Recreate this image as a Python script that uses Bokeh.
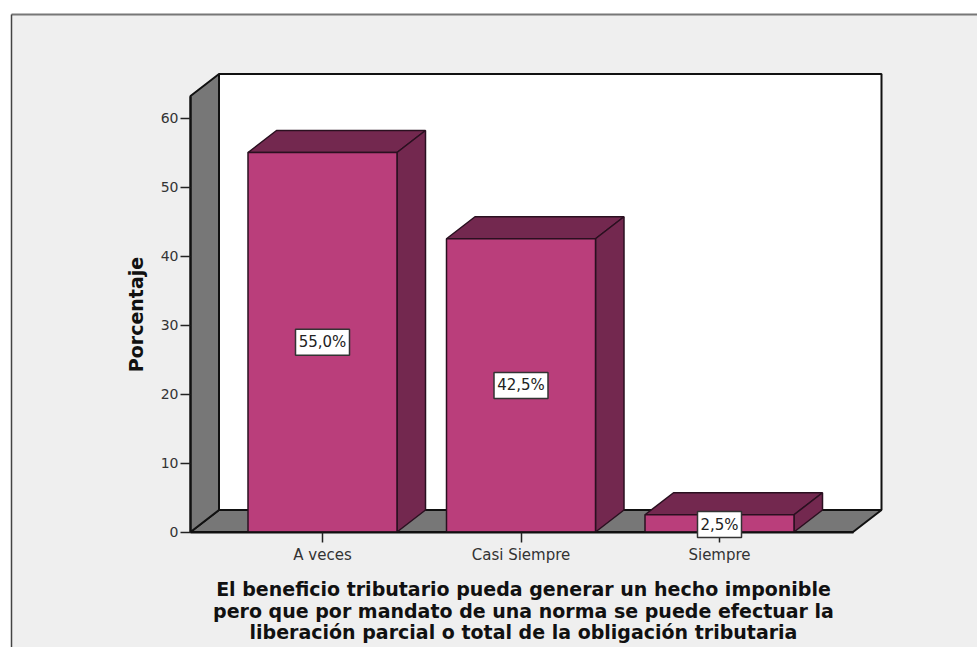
from bokeh.plotting import figure
from bokeh.embed import file_html
from bokeh.resources import INLINE
from bokeh.core.properties import value
from bokeh.models import FixedTicker
from math import pi

categories = ["A veces", "Casi Siempre", "Siempre"]
positions = [1, 2, 3]
percent = [55.0, 42.5, 2.5]
point_labels = ["55,0%", "42,5%", "2,5%"]
y_ticks = [0, 10, 20, 30, 40, 50, 60]
x_title = ["El beneficio tributario pueda generar un hecho imponible",
           "pero que por mandato de una norma se puede efectuar la",
           "liberación parcial o total de la obligación tributaria"]
y_title = "Porcentaje"

FRONT = "#ba3e7b"
DARK = "#73284f"
EDGE = "#2a1020"
GREY = "#777777"
PANEL = "#efefef"

# page pixel <-> data
PX_X, PX_Y = 198.5, 6.9
def X(px): return 1 + (px - 322) / PX_X
def Y(py): return (531.5 - py) / PX_Y

p = figure(width=977, height=647, min_border=0, toolbar_location=None,
           output_backend="svg", x_range=(X(0), X(977)), y_range=(Y(647), Y(0)))
p.outline_line_color = None
p.grid.visible = False
p.background_fill_color = "white"
p.border_fill_color = "white"

# panel
p.quad(left=[X(11)], right=[X(977)], bottom=[Y(647)], top=[Y(14)], fill_color=PANEL, line_color=None)
p.line([X(11), X(977)], [Y(14), Y(14)], line_color="#777777", line_width=2)
p.line([X(11), X(11)], [Y(14), Y(647)], line_color="#444444", line_width=1.5)

xl, xr = X(190), X(852.5)
dx, dy = 28.5 / PX_X, 22 / PX_Y
ytop = Y(95.5)

# walls and floor
p.patch([xl + dx, xr + dx, xr + dx, xl + dx], [dy, dy, ytop + dy, ytop + dy],
        fill_color="white", line_color="#111111", line_width=2)
p.patch([xl, xr, xr + dx, xl + dx], [0, 0, dy, dy], fill_color=GREY, line_color="#111111", line_width=2)
p.patch([xl, xl + dx, xl + dx, xl], [0, dy, ytop + dy, ytop], fill_color=GREY, line_color="#111111", line_width=2)

# bars
w = 149 / PX_X
for c, v in zip(positions, percent):
    l, r = c - w / 2, c + w / 2
    p.patch([l, l + dx, r + dx, r], [v, v + dy, v + dy, v], fill_color=DARK, line_color=EDGE, line_width=1.5)
    p.patch([r, r + dx, r + dx, r], [0, dy, v + dy, v], fill_color=DARK, line_color=EDGE, line_width=1.5)
p.quad(left=[c - w / 2 for c in positions], right=[c + w / 2 for c in positions],
       bottom=0, top=percent, fill_color=FRONT, line_color=EDGE, line_width=1.5)

# axes
xa = p.xaxis[0]
xa.fixed_location = 0
xa.bounds = (xl, xr)
xa.ticker = FixedTicker(ticks=positions)
xa.major_label_overrides = dict(zip(positions, categories))
ya = p.yaxis[0]
ya.fixed_location = xl
ya.bounds = (0, ytop)
ya.ticker = FixedTicker(ticks=y_ticks)
for a in (xa, ya):
    a.axis_line_color = "#111111"
    a.axis_line_width = 2
    a.major_tick_line_color = "#222222"
    a.major_tick_line_width = 1.5
    a.major_tick_out = 10
    a.major_tick_in = 0
    a.minor_tick_out = 0
    a.minor_tick_in = 0
    a.major_label_text_font = "DejaVu Sans"
    a.major_label_text_font_size = "14px"
    a.major_label_text_color = "#333333"
    a.major_label_standoff = 2
xa.major_label_standoff = 4
xa.major_label_text_font_size = "15px"

# point labels
box_w = [54, 54, 44]
box_y = [v / 2 for v in percent]
box_y[2] = Y(524)
p.rect(x=positions, y=box_y, width=box_w, height=26, width_units="screen", height_units="screen",
       fill_color="white", line_color="#333333", line_width=1.5, level="annotation")
p.text(x=positions, y=box_y, text=point_labels, text_align="center", text_baseline="middle",
       text_font=value("DejaVu Sans"), text_font_size="15px", text_color="#222222", level="annotation")

# titles
p.text(x=[X(135)], y=[Y(314)], text=[y_title], angle=pi / 2, text_align="center", text_baseline="middle",
       text_font=value("DejaVu Sans"), text_font_size="19px", text_font_style="bold", text_color="#111111")
p.text(x=[X(523)] * 3, y=[Y(588), Y(610), Y(631)], text=x_title, text_align="center", text_baseline="middle",
       text_font=value("DejaVu Sans"), text_font_size="19px", text_font_style="bold", text_color="#111111")

open("out.html", "w").write(file_html(p, INLINE))
